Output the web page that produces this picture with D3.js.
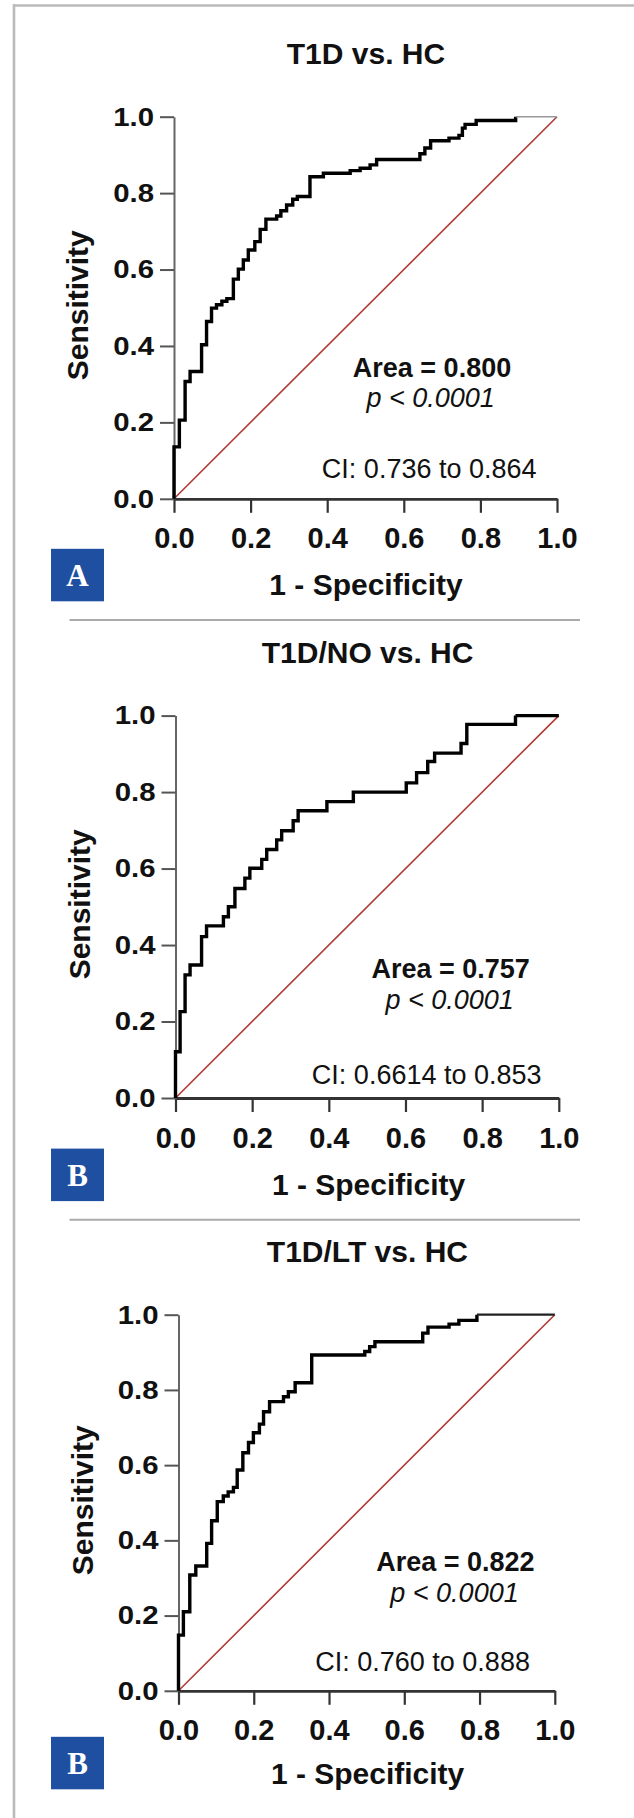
<!DOCTYPE html>
<html>
<head>
<meta charset="UTF-8">
<script src="https://cdn.jsdelivr.net/npm/d3@7"></script>
<style>
  body { margin: 0; background: #fff; }
  svg { display: block; }
  text { font-family: "Liberation Sans", Arial, sans-serif; fill: #111; }
</style>
</head>
<body>
<div id="chart"></div>
<script>
// panel texts
var titles = ["T1D vs. HC", "T1D/NO vs. HC", "T1D/LT vs. HC"];
var letters = ["A", "B", "B"];
var areas = ["0.800", "0.757", "0.822"];
var pLabels = ["p < 0.0001", "p < 0.0001", "p < 0.0001"];
var ciLabels = ["CI: 0.736 to 0.864", "CI: 0.6614 to 0.853", "CI: 0.760 to 0.888"];
var tickValues = [0, 0.2, 0.4, 0.6, 0.8, 1.0];

// ROC steps: at each fpr the sensitivity rises to tpr
var fprA = [0, 0, 0.014, 0.029, 0.042, 0.072, 0.085, 0.098, 0.111, 0.125, 0.138, 0.155, 0.168, 0.181, 0.194, 0.211, 0.225, 0.240, 0.268, 0.279, 0.294, 0.310, 0.322, 0.355, 0.390, 0.460, 0.486, 0.512, 0.529, 0.642, 0.655, 0.670, 0.718, 0.744, 0.753, 0.760, 0.789, 0.892, 1];
var tprA = [0, 0.136, 0.206, 0.307, 0.333, 0.403, 0.464, 0.499, 0.508, 0.517, 0.524, 0.575, 0.601, 0.625, 0.651, 0.673, 0.705, 0.732, 0.740, 0.754, 0.769, 0.784, 0.791, 0.843, 0.852, 0.859, 0.865, 0.874, 0.888, 0.903, 0.918, 0.937, 0.944, 0.951, 0.970, 0.980, 0.990, 1.0, 1.0];

var fprB = [0, 0, 0.012, 0.025, 0.038, 0.068, 0.081, 0.125, 0.138, 0.155, 0.181, 0.194, 0.225, 0.238, 0.264, 0.277, 0.307, 0.320, 0.395, 0.464, 0.602, 0.629, 0.658, 0.676, 0.745, 0.760, 0.887, 1];
var tprB = [0, 0.121, 0.226, 0.322, 0.348, 0.422, 0.450, 0.474, 0.500, 0.548, 0.575, 0.601, 0.624, 0.650, 0.675, 0.699, 0.725, 0.751, 0.775, 0.800, 0.824, 0.851, 0.880, 0.902, 0.927, 0.977, 1.0, 1.0];

var fprC = [0, 0, 0.013, 0.030, 0.046, 0.075, 0.088, 0.103, 0.119, 0.132, 0.146, 0.156, 0.171, 0.186, 0.199, 0.215, 0.226, 0.242, 0.279, 0.292, 0.310, 0.354, 0.495, 0.508, 0.522, 0.649, 0.663, 0.719, 0.745, 0.793, 1];
var tprC = [0, 0.148, 0.210, 0.308, 0.332, 0.392, 0.452, 0.503, 0.518, 0.529, 0.541, 0.587, 0.633, 0.660, 0.686, 0.709, 0.742, 0.769, 0.782, 0.795, 0.819, 0.893, 0.902, 0.915, 0.928, 0.951, 0.967, 0.975, 0.985, 1.0, 1.0];

var curves = [[fprA, tprA], [fprB, tprB], [fprC, tprC]];

// where each panel sits on the page
var layout = [
  {left: 174, right: 557, top: 116.7, bottom: 498.8, areaX: 432, areaY: -122, pX: 430.6, pY: -92, ciX: 429.2, ciY: -21, labelX: 366, labelY: 96, titleX: 366, boxY: 50, tail: {stroke: "#999", width: 1.5}},
  {left: 175.5, right: 558.8, top: 715.6, bottom: 1098, areaX: 450.6, areaY: -120, pX: 449.6, pY: -89.4, ciX: 426.7, ciY: -13.6, labelX: 368.6, labelY: 97, titleX: 367.6, boxY: 50.6, tail: {stroke: "#000", width: 3.4}},
  {left: 178.5, right: 554.8, top: 1314.7, bottom: 1690.8, areaX: 455.4, areaY: -119.4, pX: 454.5, pY: -89.2, ciX: 422.6, ciY: -19.4, labelX: 367.6, labelY: 93, titleX: 367.4, boxY: 46, tail: {stroke: "#222", width: 2.2}}
];

var width = 634, height = 1818;

var svg = d3.select("#chart").append("svg")
  .attr("width", width)
  .attr("height", height);

// frame: top and left edges only
svg.append("line").attr("x1", 13).attr("x2", width).attr("y1", 5.5).attr("y2", 5.5)
  .attr("stroke", "#bbb").attr("stroke-width", 2.6);
svg.append("line").attr("x1", 14).attr("x2", 14).attr("y1", 4.2).attr("y2", height)
  .attr("stroke", "#bbb").attr("stroke-width", 2.6);

// separators between panels
[620, 1219.7].forEach(function(y) {
  svg.append("line").attr("x1", 69.5).attr("x2", 580).attr("y1", y).attr("y2", y)
    .attr("stroke", "#aaa").attr("stroke-width", 2);
});

var fmt = d3.format(".1f");

layout.forEach(function(L, i) {
  var x = d3.scaleLinear().domain([0, 1]).range([L.left, L.right]);
  var y = d3.scaleLinear().domain([0, 1]).range([L.bottom, L.top]);
  var g = svg.append("g");

  // title
  g.append("text")
    .attr("x", L.titleX).attr("y", L.top - 52.5)
    .attr("text-anchor", "middle")
    .style("font-size", "30px").style("font-weight", "bold")
    .text(titles[i]);

  // reference diagonal
  g.append("line")
    .attr("x1", x(0)).attr("y1", y(0)).attr("x2", x(1)).attr("y2", y(1))
    .attr("stroke", "#b03a34").attr("stroke-width", 1.6);

  // x axis
  var gx = g.append("g")
    .attr("transform", "translate(0," + L.bottom + ")")
    .call(d3.axisBottom(x).tickValues(tickValues).tickFormat(fmt)
      .tickSize(14).tickSizeOuter(0).tickPadding(15));
  gx.select(".domain").attr("stroke", "#333").attr("stroke-width", 2.8);
  gx.selectAll(".tick line").attr("stroke", "#333").attr("stroke-width", 2.2);
  gx.selectAll(".tick text")
    .style("font-size", "29px").style("font-weight", "bold")
    .style("font-family", "'Liberation Sans', Arial, sans-serif").attr("fill", "#111");

  // y axis
  var gy = g.append("g")
    .attr("transform", "translate(" + L.left + ",0)")
    .call(d3.axisLeft(y).tickValues(tickValues).tickFormat(fmt)
      .tickSize(14).tickSizeOuter(0).tickPadding(6));
  gy.select(".domain").attr("stroke", "#666").attr("stroke-width", 2);
  gy.selectAll(".tick line").attr("stroke", "#555").attr("stroke-width", 2);
  gy.selectAll(".tick text")
    .style("font-size", "26px").style("font-weight", "bold")
    .style("font-family", "'Liberation Sans', Arial, sans-serif").attr("fill", "#111")
    .attr("x", -20 / 1.13)
    .attr("transform", "scale(1.13,1)");

  // ROC curve, last flat stretch drawn on its own
  var fpr = curves[i][0], tpr = curves[i][1];
  var pts = fpr.map(function(d, k) { return [d, tpr[k]]; });
  var line = d3.line()
    .x(function(d) { return x(d[0]); })
    .y(function(d) { return y(d[1]); })
    .curve(d3.curveStepAfter);
  g.append("path")
    .datum(pts.slice(0, pts.length - 1))
    .attr("d", line)
    .attr("fill", "none").attr("stroke", "#000")
    .attr("stroke-width", 3.4).attr("stroke-linejoin", "miter");
  g.append("path")
    .datum(pts.slice(pts.length - 2))
    .attr("d", line)
    .attr("fill", "none").attr("stroke", L.tail.stroke)
    .attr("stroke-width", L.tail.width);

  // axis labels
  g.append("text")
    .attr("x", L.labelX).attr("y", L.bottom + L.labelY)
    .attr("text-anchor", "middle")
    .style("font-size", "30px").style("font-weight", "bold")
    .text("1 - Specificity");
  g.append("text")
    .attr("transform", "translate(" + (L.left - 86) + "," + ((L.top + L.bottom) / 2 - 2.5) + ") rotate(-90)")
    .attr("text-anchor", "middle")
    .style("font-size", "30px").style("font-weight", "bold")
    .text("Sensitivity");

  // stats
  g.append("text")
    .attr("x", L.areaX).attr("y", L.bottom + L.areaY)
    .attr("text-anchor", "middle")
    .style("font-size", "27px").style("font-weight", "bold")
    .text("Area = " + areas[i]);
  g.append("text")
    .attr("x", L.pX).attr("y", L.bottom + L.pY)
    .attr("text-anchor", "middle")
    .style("font-size", "27px").style("font-style", "italic")
    .text(pLabels[i]);
  g.append("text")
    .attr("x", L.ciX).attr("y", L.bottom + L.ciY)
    .attr("text-anchor", "middle")
    .style("font-size", "27px")
    .text(ciLabels[i]);

  // panel letter
  g.append("rect")
    .attr("x", 51).attr("y", L.bottom + L.boxY)
    .attr("width", 53).attr("height", 52.5)
    .attr("fill", "#1f4fa0");
  g.append("text")
    .attr("x", 77.5).attr("y", L.bottom + L.boxY + 37)
    .attr("text-anchor", "middle")
    .style("font-family", "'Liberation Serif', 'DejaVu Serif', serif")
    .style("font-size", "31px").style("font-weight", "bold")
    .attr("fill", "#fff").style("fill", "#fff")
    .text(letters[i]);
});
</script>
</body>
</html>
